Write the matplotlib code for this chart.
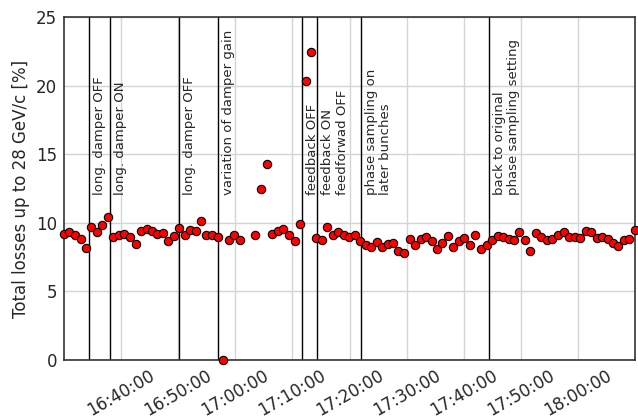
import numpy as np
import pandas as pd
import matplotlib
matplotlib.use('Agg')
import matplotlib.pyplot as plt
import matplotlib.dates as mdates

# measurement times and losses
times = ['16:30:03', '16:30:58', '16:31:58', '16:32:58', '16:33:50', '16:34:49',
         '16:35:45', '16:36:44', '16:37:44', '16:38:39', '16:39:39', '16:40:35',
         '16:41:34', '16:42:34', '16:43:30', '16:44:29', '16:45:25', '16:46:20',
         '16:47:20', '16:48:16', '16:49:15', '16:50:11', '16:51:11', '16:52:06',
         '16:53:06', '16:54:02', '16:54:58', '16:55:57', '16:56:57', '16:57:54',
         '16:58:52', '16:59:47', '17:00:47', '17:03:30', '17:04:34', '17:05:33',
         '17:06:30', '17:07:28', '17:08:25', '17:09:24', '17:10:23', '17:11:19',
         '17:12:19', '17:13:14', '17:14:11', '17:15:06', '17:16:06', '17:17:05',
         '17:18:01', '17:19:00', '17:19:55', '17:20:55', '17:21:52', '17:22:48',
         '17:23:47', '17:24:46', '17:25:43', '17:26:38', '17:27:38', '17:28:33',
         '17:29:33', '17:30:32', '17:31:28', '17:32:27', '17:33:24', '17:34:22',
         '17:35:19', '17:36:15', '17:37:10', '17:38:10', '17:39:05', '17:40:05',
         '17:41:05', '17:42:00', '17:43:00', '17:43:59', '17:44:55', '17:45:54',
         '17:46:51', '17:47:49', '17:48:46', '17:49:42', '17:50:41', '17:51:37',
         '17:52:37', '17:53:32', '17:54:32', '17:55:27', '17:56:27', '17:57:26',
         '17:58:22', '17:59:21', '18:00:18', '18:01:16', '18:02:13', '18:03:12',
         '18:04:08', '18:05:07', '18:06:04', '18:07:02', '18:07:59', '18:08:54',
         '18:09:50']

losses = [9.16, 9.35, 9.13, 8.82, 8.19, 9.72, 9.35, 9.81, 10.4, 8.99,
          9.11, 9.18, 8.99, 8.45, 9.43, 9.52, 9.40, 9.20, 9.28, 8.70,
          9.04, 9.60, 9.11, 9.47, 9.43, 10.15, 9.11, 9.13, 8.97, 0.0,
          8.77, 9.13, 8.77, 9.11, 12.46, 14.29, 9.21, 9.43, 9.52, 9.11,
          8.65, 9.93, 20.36, 22.42, 8.87, 8.77, 9.69, 9.09, 9.35, 9.13,
          8.95, 9.11, 8.65, 8.38, 8.26, 8.60, 8.26, 8.43, 8.50, 7.97,
          7.77, 8.80, 8.36, 8.80, 8.99, 8.65, 8.07, 8.55, 9.04, 8.26,
          8.65, 8.91, 8.38, 9.13, 8.07, 8.36, 8.77, 9.04, 8.99, 8.84,
          8.77, 9.35, 8.77, 7.97, 9.26, 8.99, 8.75, 8.82, 9.13, 9.30,
          8.99, 8.99, 8.87, 9.43, 9.33, 8.91, 8.97, 8.82, 8.50, 8.29,
          8.77, 8.82, 9.45]

# events during the measurement
event_times = ['16:34:25', '16:38:05', '16:50:05', '16:57:00',
               '17:11:40', '17:14:17', '17:21:58', '17:44:20']
event_labels = ['long. damper OFF', 'long. damper ON', 'long. damper OFF',
                'variation of damper gain', 'feedback OFF',
                'feedback ON\nfeedforwad OFF',
                'phase sampling on\nlater bunches',
                'back to original\nphase sampling setting']

t = pd.to_datetime(['2016-01-01 ' + s for s in times])
te = pd.to_datetime(['2016-01-01 ' + s for s in event_times])

fig = plt.figure(figsize=(6.38, 4.19), dpi=100)
ax = fig.add_axes([64/638, 1-360/419, 570.5/638, 343/419])

ax.grid(True, color='#d4d4d4', linewidth=1, zorder=0)
ax.set_axisbelow(True)

for tt, lab in zip(te, event_labels):
    ax.axvline(tt, color='black', linewidth=1, zorder=2)
    ax.annotate(lab, xy=(tt, 12), xytext=(3, 0), textcoords='offset points',
                rotation=90, ha='left', va='bottom', fontsize=9.5,
                color='#262626', linespacing=1.15)

ax.plot(t, losses, 'o', color='red', markeredgecolor='black',
        markeredgewidth=0.8, markersize=6, zorder=3, clip_on=False)

ax.set_xlim(t.min(), t.max())
ax.set_ylim(0, 25)
ax.set_yticks([0, 5, 10, 15, 20, 25])
ax.xaxis.set_major_locator(mdates.MinuteLocator(byminute=range(0, 60, 10)))
ax.xaxis.set_major_formatter(mdates.DateFormatter('%H:%M:%S'))
plt.setp(ax.get_xticklabels(), rotation=30, ha='center')
ax.tick_params(length=0, labelsize=12, labelcolor='#262626', pad=5)
for sp in ax.spines.values():
    sp.set_color('#333333')
    sp.set_linewidth(1.2)

ax.set_ylabel('Total losses up to 28 GeV/c [%]', fontsize=12, color='#262626')

fig.savefig('out.png', dpi=100)
